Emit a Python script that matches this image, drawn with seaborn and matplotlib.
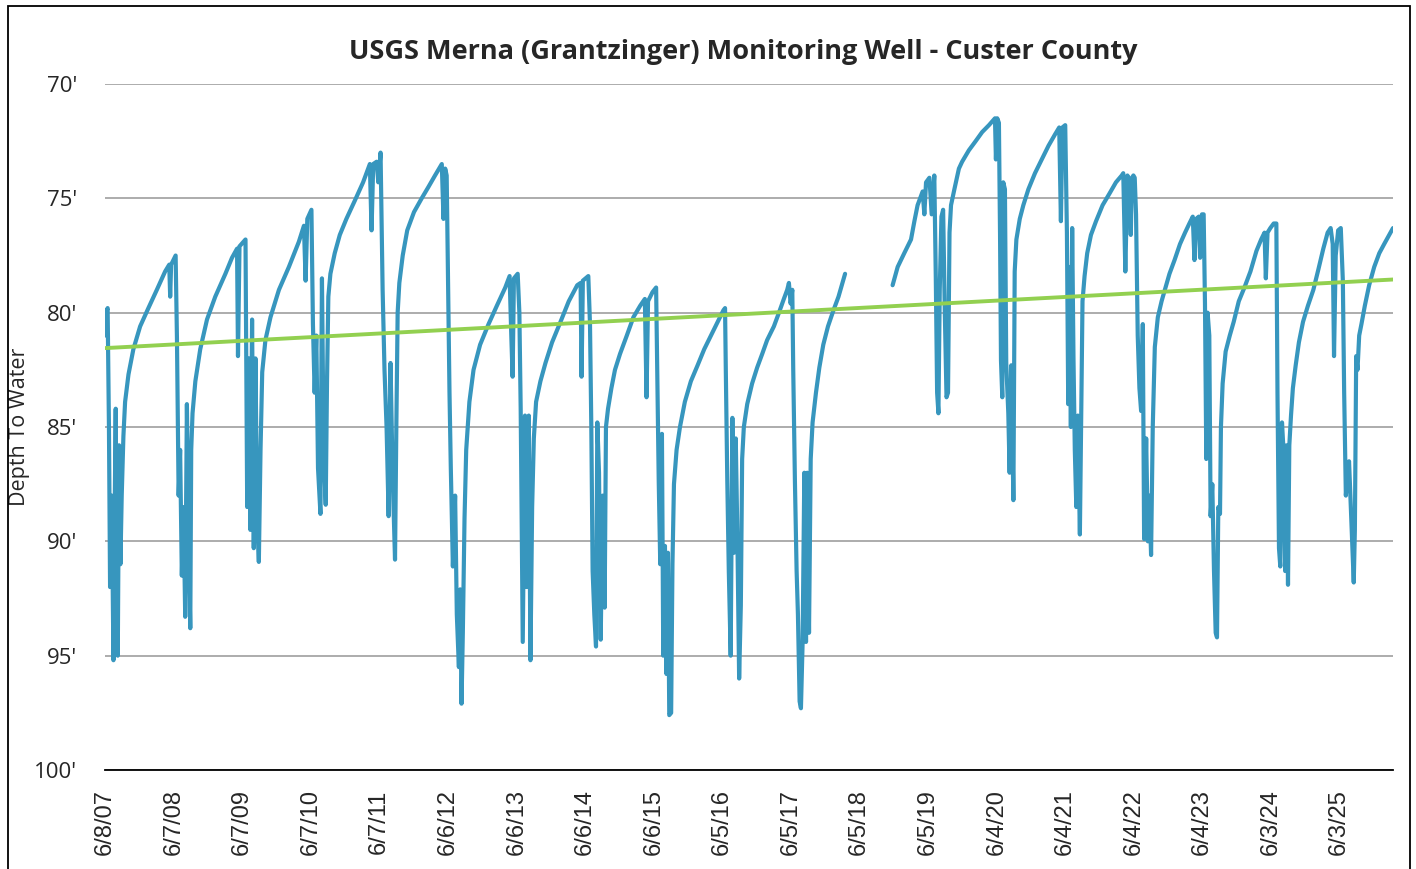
import pandas as pd
import matplotlib.pyplot as plt
import seaborn as sns
from matplotlib.patches import Rectangle

# depth to water readings (ft below surface), first run of record: Jun 2007 - Mar 2018
dates_a = [
    "2007-06-08", "2007-06-12", "2007-06-17", "2007-06-22", "2007-06-29", "2007-07-05", "2007-07-14",
    "2007-07-23", "2007-07-28", "2007-08-04", "2007-08-09", "2007-08-15", "2007-08-22", "2007-08-29",
    "2007-09-05", "2007-09-14", "2007-09-23", "2007-10-11", "2007-11-06", "2007-12-12", "2008-01-25",
    "2008-03-10", "2008-04-23", "2008-05-15", "2008-05-20", "2008-05-25", "2008-06-18",
    # 2008
    "2008-06-25", "2008-07-04", "2008-07-12", "2008-07-21", "2008-07-30", "2008-08-08", "2008-08-17",
    "2008-08-26", "2008-09-04", "2008-09-09", "2008-09-16", "2008-10-01", "2008-10-27", "2008-12-02",
    "2009-01-15", "2009-03-10", "2009-04-14", "2009-05-11", "2009-05-16", "2009-05-24", "2009-06-25",
    # 2009
    "2009-07-04", "2009-07-13", "2009-07-21", "2009-07-30", "2009-08-08", "2009-08-17", "2009-08-26",
    "2009-09-04", "2009-09-13", "2009-09-22", "2009-10-09", "2009-11-05", "2009-12-20", "2010-02-11",
    "2010-04-05", "2010-05-02", "2010-05-11", "2010-05-20", "2010-06-11",
    # 2010
    "2010-06-19", "2010-06-28", "2010-07-07", "2010-07-16", "2010-07-29", "2010-08-06", "2010-08-15",
    "2010-08-26", "2010-09-02", "2010-09-09", "2010-09-20", "2010-10-13", "2010-11-09", "2010-12-14",
    "2011-01-28", "2011-03-13", "2011-04-18", "2011-04-27", "2011-05-06", "2011-05-24", "2011-06-02",
    "2011-06-14",
    # 2011
    "2011-06-25", "2011-07-05", "2011-07-16", "2011-07-27", "2011-08-06", "2011-08-17", "2011-08-30",
    "2011-09-06", "2011-09-13", "2011-09-22", "2011-10-10", "2011-11-03", "2011-12-09", "2012-01-19",
    "2012-02-24", "2012-03-30", "2012-05-05", "2012-05-14", "2012-05-23", "2012-05-31",
    # 2012
    "2012-06-06", "2012-06-15", "2012-06-22", "2012-07-03", "2012-07-15", "2012-07-24", "2012-08-04",
    "2012-08-11", "2012-08-18", "2012-08-25", "2012-09-03", "2012-09-12", "2012-09-29", "2012-10-21",
    "2012-11-25", "2013-01-09", "2013-02-22", "2013-04-08", "2013-05-01", "2013-05-10", "2013-05-17",
    "2013-05-24", "2013-06-13",
    # 2013
    "2013-06-22", "2013-06-29", "2013-07-10", "2013-07-22", "2013-07-31", "2013-08-11", "2013-08-20",
    "2013-08-29", "2013-09-07", "2013-09-19", "2013-10-12", "2013-11-08", "2013-12-13", "2014-01-27",
    "2014-03-12", "2014-04-26", "2014-05-14", "2014-05-19", "2014-05-26", "2014-06-24",
    # 2014
    "2014-07-03", "2014-07-10", "2014-07-17", "2014-07-26", "2014-08-04", "2014-08-11", "2014-08-20",
    "2014-08-29", "2014-09-08", "2014-09-19", "2014-09-26", "2014-10-07", "2014-10-25", "2014-11-13",
    "2014-12-10", "2015-01-15", "2015-02-19", "2015-03-27", "2015-04-21", "2015-04-30", "2015-05-08",
    "2015-06-01", "2015-06-20",
    # 2015
    "2015-06-27", "2015-07-04", "2015-07-12", "2015-07-21", "2015-07-28", "2015-08-06", "2015-08-14",
    "2015-08-22", "2015-08-29", "2015-09-08", "2015-09-15", "2015-09-23", "2015-10-07", "2015-10-25",
    "2015-11-20", "2015-12-22", "2016-01-27", "2016-03-02", "2016-04-07", "2016-05-13", "2016-06-12",
    "2016-06-21",
    # 2016
    "2016-06-25", "2016-07-03", "2016-07-11", "2016-07-21", "2016-07-30", "2016-08-08", "2016-08-17",
    "2016-08-26", "2016-09-04", "2016-09-13", "2016-09-20", "2016-09-29", "2016-10-17", "2016-11-12",
    "2016-12-09", "2017-01-05", "2017-01-31", "2017-03-08", "2017-04-04", "2017-04-30", "2017-05-18",
    "2017-05-27", "2017-06-05", "2017-06-14",
    # 2017
    "2017-06-19", "2017-06-28", "2017-07-07", "2017-07-14", "2017-07-23", "2017-07-30", "2017-08-08",
    "2017-08-17", "2017-08-26", "2017-09-02", "2017-09-11", "2017-09-20", "2017-09-30", "2017-10-18",
    "2017-11-05", "2017-11-26", "2017-12-21", "2018-01-19", "2018-02-15", "2018-03-08", "2018-03-22",
]
depth_a = [
    81.0, 80.2, 79.9, 79.8, 85.0, 92.0, 88.0,
    95.2, 90.0, 84.2, 93.0, 95.0, 85.8, 91.0,
    88.0, 85.4, 83.9, 82.7, 81.6, 80.6, 79.8,
    79.0, 78.2, 77.9, 79.3, 77.9, 77.5,
    81.1, 88.0, 86.0, 91.5, 88.5, 93.3, 84.0,
    90.0, 93.8, 86.0, 84.4, 83.0, 81.6, 80.3,
    79.3, 78.3, 77.6, 77.2, 81.9, 77.1, 76.8,
    88.5, 82.0, 89.5, 80.3, 90.3, 82.0, 89.0,
    90.9, 86.0, 82.6, 81.2, 80.2, 79.0, 78.0,
    76.9, 76.2, 78.6, 75.9, 75.5,
    80.5, 83.5, 81.0, 86.8, 88.8, 78.5, 86.0,
    88.4, 83.0, 79.3, 78.3, 77.4, 76.6, 75.9,
    75.1, 74.3, 73.5, 76.4, 73.5, 73.4, 74.3,
    73.0,
    79.0, 82.5, 85.0, 88.9, 82.2, 87.0, 90.8,
    85.0, 80.0, 78.7, 77.5, 76.4, 75.6, 75.0,
    74.5, 74.0, 73.5, 75.9, 73.7, 74.0,
    77.8, 83.5, 86.8, 91.1, 88.0, 93.2, 95.5,
    92.1, 97.1, 94.0, 89.0, 86.0, 83.9, 82.5,
    81.4, 80.5, 79.7, 78.9, 78.4, 81.0, 82.8,
    78.5, 78.3,
    80.0, 84.2, 94.4, 84.5, 92.0, 84.5, 95.2,
    88.5, 85.5, 83.9, 83.0, 82.2, 81.3, 80.4,
    79.5, 78.8, 78.7, 82.8, 78.6, 78.4,
    80.5, 85.0, 91.3, 93.2, 94.6, 84.8, 87.0,
    94.3, 88.0, 92.9, 85.0, 84.2, 83.3, 82.5,
    81.8, 81.0, 80.2, 79.7, 79.4, 83.7, 79.5,
    79.1, 78.9,
    83.0, 87.4, 91.0, 85.3, 95.0, 90.2, 95.8,
    90.5, 97.6, 97.5, 91.0, 87.5, 86.0, 85.0,
    83.9, 83.0, 82.3, 81.6, 81.0, 80.4, 79.9,
    79.8,
    82.5, 87.4, 91.3, 95.0, 84.6, 90.5, 85.5,
    90.0, 96.0, 92.8, 86.4, 85.0, 84.0, 83.1,
    82.4, 81.8, 81.2, 80.6, 80.0, 79.4, 79.0,
    78.7, 79.6, 79.0,
    82.5, 87.4, 91.3, 93.2, 97.0, 97.3, 94.4,
    87.0, 94.4, 87.0, 94.0, 86.4, 84.8, 83.5,
    82.4, 81.4, 80.6, 79.9, 79.3, 78.7, 78.3,
]

# second run of record, after the 2018 gap: Nov 2018 - Mar 2026
dates_b = [
    "2018-11-30", "2018-12-27", "2019-01-31", "2019-03-08", "2019-03-26", "2019-04-12", "2019-05-09",
    "2019-05-18", "2019-05-27", "2019-06-14", "2019-06-26", "2019-07-10",
    # 2019
    "2019-07-18", "2019-07-25", "2019-08-01", "2019-08-08", "2019-08-17", "2019-08-26", "2019-09-04",
    "2019-09-13", "2019-09-21", "2019-09-29", "2019-10-07", "2019-10-25", "2019-11-18", "2019-12-05",
    "2020-01-10", "2020-02-15", "2020-03-21", "2020-04-26", "2020-05-17", "2020-05-28", "2020-06-02",
    "2020-06-09", "2020-06-18",
    # 2020
    "2020-06-24", "2020-06-29", "2020-07-06", "2020-07-11", "2020-07-20", "2020-07-27", "2020-08-07",
    "2020-08-14", "2020-08-23", "2020-09-03", "2020-09-10", "2020-09-19", "2020-10-07", "2020-10-26",
    "2020-11-22", "2020-12-27", "2021-02-01", "2021-03-09", "2021-04-13", "2021-05-05", "2021-05-14",
    "2021-05-22", "2021-06-06",
    # 2021
    "2021-06-15", "2021-06-22", "2021-06-29", "2021-07-06", "2021-07-13", "2021-07-20", "2021-07-27",
    "2021-08-04", "2021-08-12", "2021-08-23", "2021-08-30", "2021-09-06", "2021-09-17", "2021-10-01",
    "2021-10-21", "2021-11-17", "2021-12-22", "2022-01-27", "2022-03-03", "2022-04-03", "2022-04-11",
    "2022-04-22", "2022-05-03", "2022-05-14", "2022-05-21", "2022-05-27", "2022-06-04", "2022-06-11",
    "2022-06-18",
    # 2022
    "2022-06-27", "2022-07-06", "2022-07-15", "2022-07-24", "2022-07-31", "2022-08-11", "2022-08-20",
    "2022-08-28", "2022-09-06", "2022-09-15", "2022-09-26", "2022-10-12", "2022-11-01", "2022-11-22",
    "2022-12-13", "2023-01-09", "2023-02-07", "2023-03-06", "2023-03-29", "2023-04-16", "2023-04-25",
    "2023-05-04", "2023-05-18", "2023-05-25", "2023-06-04", "2023-06-13",
    # 2023
    "2023-06-20", "2023-06-27", "2023-07-04", "2023-07-13", "2023-07-20", "2023-07-29", "2023-08-07",
    "2023-08-16", "2023-08-23", "2023-08-30", "2023-09-08", "2023-09-13", "2023-09-22", "2023-10-08",
    "2023-10-30", "2023-11-20", "2023-12-17", "2024-01-16", "2024-02-17", "2024-03-20", "2024-04-14",
    "2024-05-02", "2024-05-09", "2024-05-18", "2024-06-02", "2024-06-20", "2024-07-04",
    # 2024
    "2024-07-10", "2024-07-18", "2024-07-25", "2024-08-03", "2024-08-11", "2024-08-20", "2024-08-27",
    "2024-09-04", "2024-09-11", "2024-09-20", "2024-09-30", "2024-10-15", "2024-11-01", "2024-11-23",
    "2024-12-19", "2025-01-17", "2025-02-13", "2025-03-11", "2025-04-03", "2025-04-19", "2025-04-30",
    "2025-05-07", "2025-05-16", "2025-05-29", "2025-06-12",
    # 2025
    "2025-06-23", "2025-06-30", "2025-07-09", "2025-07-18", "2025-07-26", "2025-08-04", "2025-08-13",
    "2025-08-20", "2025-08-26", "2025-09-02", "2025-09-09", "2025-09-18", "2025-09-30", "2025-10-18",
    "2025-11-10", "2025-12-07", "2026-01-03", "2026-01-29", "2026-02-25", "2026-03-17",
]
depth_b = [
    78.8, 78.0, 77.4, 76.8, 76.0, 75.3, 74.7,
    75.7, 74.3, 74.1, 75.7, 74.0,
    78.5, 83.5, 84.4, 79.0, 75.8, 75.5, 80.0,
    83.7, 83.5, 76.5, 75.3, 74.6, 73.7, 73.4,
    72.9, 72.5, 72.1, 71.8, 71.6, 71.5, 73.3,
    71.5, 71.7,
    76.6, 82.1, 83.7, 74.3, 74.6, 82.2, 84.4,
    87.0, 82.3, 88.2, 78.2, 76.8, 75.9, 75.3,
    74.6, 73.9, 73.3, 72.7, 72.2, 71.9, 76.0,
    71.9, 71.8,
    76.5, 84.0, 78.0, 85.0, 76.3, 82.0, 86.0,
    88.5, 84.5, 89.7, 84.5, 79.5, 78.4, 77.4,
    76.6, 76.0, 75.3, 74.8, 74.3, 74.0, 73.9,
    78.2, 74.0, 74.2, 76.6, 74.1, 74.0, 74.1,
    75.7,
    81.0, 83.3, 84.3, 80.5, 89.9, 85.5, 90.0,
    88.0, 90.6, 85.0, 81.5, 80.2, 79.5, 78.9,
    78.3, 77.7, 77.0, 76.5, 76.1, 75.8, 77.7,
    75.9, 75.8, 77.6, 75.7, 75.7,
    79.6, 86.4, 80.0, 81.0, 88.9, 87.5, 91.3,
    94.0, 94.2, 88.5, 88.8, 85.0, 83.1, 81.7,
    81.0, 80.4, 79.5, 78.9, 78.2, 77.3, 76.8,
    76.5, 78.5, 76.5, 76.3, 76.1, 76.1,
    83.5, 90.3, 91.1, 84.8, 86.0, 91.3, 85.8,
    91.9, 85.8, 84.5, 83.3, 82.3, 81.3, 80.4,
    79.7, 79.0, 78.1, 77.2, 76.5, 76.3, 77.0,
    81.9, 77.5, 76.4, 76.3,
    78.6, 83.5, 88.0, 87.0, 86.5, 88.4, 90.3,
    91.8, 89.5, 81.9, 82.5, 81.0, 80.5, 79.7,
    78.8, 78.0, 77.4, 77.0, 76.6, 76.3,
]

# linear trend line end points
trend_dates = ["2007-06-08", "2026-03-17"]
trend_depth = [81.55, 78.55]

x_tick_labels = ["6/8/07", "6/7/08", "6/7/09", "6/7/10", "6/7/11", "6/6/12", "6/6/13",
                 "6/6/14", "6/6/15", "6/5/16", "6/5/17", "6/5/18", "6/5/19", "6/4/20",
                 "6/4/21", "6/4/22", "6/4/23", "6/3/24", "6/3/25"]
y_ticks = [70, 75, 80, 85, 90, 95, 100]

assert len(dates_a) == len(depth_a) and len(dates_b) == len(depth_b)

df_a = pd.DataFrame({"date": pd.to_datetime(dates_a), "depth": depth_a})
df_b = pd.DataFrame({"date": pd.to_datetime(dates_b), "depth": depth_b})
df_trend = pd.DataFrame({"date": pd.to_datetime(trend_dates), "depth": trend_depth})

sns.set_theme(style="white")
plt.rcParams["font.family"] = ["Open Sans", "DejaVu Sans"]

fig = plt.figure(figsize=(14.16, 8.69), dpi=100)
ax = fig.add_axes([105 / 1416, 1 - 770 / 869, (1393 - 105) / 1416, (770 - 84) / 869])

blue = "#3796BE"
for d in (df_a, df_b):
    sns.lineplot(data=d, x="date", y="depth", ax=ax, color=blue, lw=3.0,
                 estimator=None, sort=False, solid_joinstyle="round")
sns.lineplot(data=df_trend, x="date", y="depth", ax=ax, color="#92D050", lw=2.8,
             estimator=None)

ax.set_xlim(pd.Timestamp("2007-06-08"), pd.Timestamp("2026-03-17"))
ax.set_ylim(100, 70)
ax.set_yticks(y_ticks)
ax.set_yticklabels([f"{v}'" for v in y_ticks], fontsize=16)
ax.yaxis.grid(True, color="#A6A6A6", lw=1.3)
ax.xaxis.grid(False)

tick_pos = pd.to_datetime(x_tick_labels, format="%m/%d/%y")
ax.set_xticks(tick_pos)
ax.set_xticklabels(x_tick_labels, rotation=90, fontsize=17, family="Liberation Sans")
ax.tick_params(axis="x", direction="inout", length=16, width=1.3, color="black", pad=6)
ax.tick_params(axis="y", length=0, pad=20)

for side in ("left", "right", "top"):
    ax.spines[side].set_visible(False)
ax.spines["bottom"].set_color("black")
ax.spines["bottom"].set_linewidth(1.3)

ax.set_xlabel("")
ax.set_ylabel("Depth To Water", fontsize=15.5)
ax.yaxis.set_label_coords((30 - 105) / 1288, 0.5)

fig.text(0.525, 1 - 52 / 869, "USGS Merna (Grantzinger) Monitoring Well - Custer County",
         ha="center", va="center", fontsize=19.5, fontweight="bold")

fig.add_artist(Rectangle((8 / 1416, -0.05), (1410 - 8) / 1416, 1.05 - 6 / 869,
                         transform=fig.transFigure, fill=False, ec="black", lw=1.3))

fig.savefig("out.png", dpi=100)
